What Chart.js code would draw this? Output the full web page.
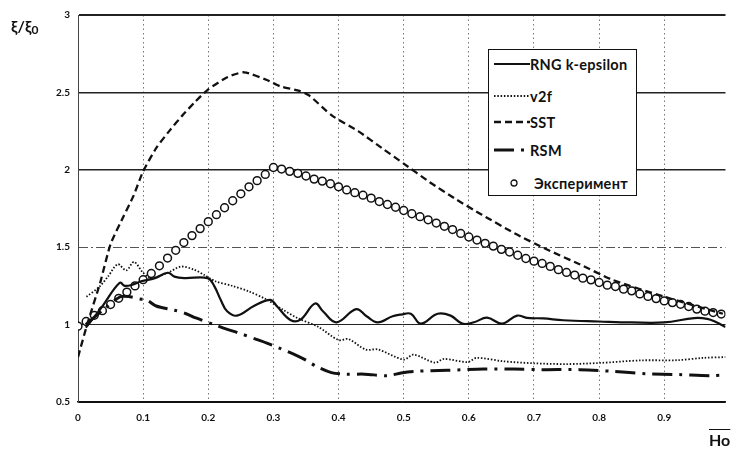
<!DOCTYPE html>
<html>
<head>
<meta charset="utf-8">
<script src="https://cdn.jsdelivr.net/npm/chart.js@4/dist/chart.umd.min.js"></script>
<style>
  html, body { margin: 0; padding: 0; background: #fff; }
  #wrap { position: relative; width: 731px; height: 455px; font-family: Lato, "Open Sans", sans-serif; }
  #chart { position: absolute; left: 0; top: 0; }
  .ytitle { position: absolute; left: 11px; top: 16px; font-weight: 700; font-size: 16px; color: #111; }
  .ytitle sub { font-size: 12px; vertical-align: -2px; }
  .xtitle { position: absolute; left: 709px; top: 430px; font-weight: 700; font-size: 16px; color: #111; text-decoration: overline; }
  #legend { position: absolute; left: 488px; top: 49px; width: 147px; height: 145px; border: 1.5px solid #111; background: #fff; }
  .item { position: absolute; left: 4px; height: 20px; display: flex; align-items: center; font-weight: 700; font-size: 14.5px; letter-spacing: 0.3px; color: #111; white-space: nowrap; }
  .item svg { display: block; }
</style>
</head>
<body>
<div id="wrap">
  <canvas id="chart" width="731" height="455"></canvas>
  <div class="ytitle">ξ/ξ<sub>0</sub></div>
  <div class="xtitle">Ho</div>
  <div id="legend"></div>
</div>
<script>
const xTicks = [0, 0.1, 0.2, 0.3, 0.4, 0.5, 0.6, 0.7, 0.8, 0.9];

const rngX = [0.012, 0.036, 0.064, 0.072, 0.085, 0.097, 0.118, 0.138, 0.148, 0.163, 0.199, 0.209, 0.219, 0.229, 0.244, 0.27, 0.295, 0.305, 0.326, 0.341, 0.364, 0.376, 0.397, 0.427, 0.443, 0.46, 0.483, 0.496, 0.511, 0.526, 0.552, 0.572, 0.59, 0.608, 0.628, 0.651, 0.674, 0.689, 0.714, 0.745, 0.8, 0.85, 0.9, 0.946, 0.966, 0.98, 0.994];
const rngY = [0.98, 1.11, 1.27, 1.25, 1.26, 1.28, 1.30, 1.335, 1.31, 1.30, 1.30, 1.25, 1.16, 1.086, 1.058, 1.12, 1.16, 1.12, 1.03, 1.03, 1.136, 1.086, 1.015, 1.10, 1.054, 1.015, 1.054, 1.065, 1.07, 1.006, 1.07, 1.058, 1.006, 1.015, 1.045, 1.006, 1.058, 1.043, 1.04, 1.028, 1.02, 1.014, 1.014, 1.042, 1.037, 1.015, 0.985];

const v2fX = [0.013, 0.033, 0.046, 0.061, 0.074, 0.086, 0.1, 0.112, 0.138, 0.158, 0.178, 0.194, 0.211, 0.237, 0.262, 0.288, 0.313, 0.338, 0.369, 0.4, 0.415, 0.442, 0.46, 0.5, 0.515, 0.548, 0.562, 0.598, 0.612, 0.653, 0.7, 0.75, 0.8, 0.865, 0.92, 0.96, 0.994];
const v2fY = [1.18, 1.245, 1.31, 1.39, 1.35, 1.405, 1.335, 1.30, 1.335, 1.375, 1.355, 1.32, 1.28, 1.25, 1.215, 1.165, 1.10, 1.04, 0.985, 0.90, 0.907, 0.838, 0.84, 0.774, 0.806, 0.754, 0.778, 0.758, 0.785, 0.763, 0.75, 0.745, 0.752, 0.769, 0.77, 0.785, 0.79];

const sstX = [0, 0.014, 0.034, 0.05, 0.07, 0.085, 0.1, 0.12, 0.14, 0.16, 0.18, 0.2, 0.23, 0.255, 0.29, 0.31, 0.34, 0.355, 0.39, 0.43, 0.47, 0.5, 0.54, 0.58, 0.62, 0.67, 0.72, 0.77, 0.82, 0.9, 0.99];
const sstY = [0.79, 1.0, 1.27, 1.52, 1.70, 1.83, 1.99, 2.14, 2.25, 2.35, 2.44, 2.52, 2.6, 2.63, 2.58, 2.54, 2.51, 2.48, 2.35, 2.25, 2.13, 2.04, 1.92, 1.81, 1.71, 1.59, 1.485, 1.39, 1.29, 1.18, 1.07];

const rsmX = [0.012, 0.04, 0.065, 0.08, 0.095, 0.105, 0.12, 0.148, 0.166, 0.181, 0.209, 0.227, 0.244, 0.275, 0.29, 0.308, 0.336, 0.35, 0.366, 0.389, 0.412, 0.44, 0.476, 0.496, 0.516, 0.567, 0.623, 0.669, 0.714, 0.77, 0.821, 0.872, 0.923, 0.973, 0.994];
const rsmY = [1.0, 1.1, 1.18, 1.18, 1.166, 1.16, 1.12, 1.093, 1.07, 1.043, 1.0, 0.972, 0.95, 0.903, 0.88, 0.85, 0.80, 0.77, 0.73, 0.69, 0.68, 0.68, 0.67, 0.688, 0.698, 0.705, 0.713, 0.713, 0.709, 0.709, 0.698, 0.683, 0.677, 0.67, 0.675];

const expX = [0, 0.0125, 0.025, 0.0375, 0.05, 0.0625, 0.075, 0.0875, 0.1, 0.1125, 0.125, 0.1375, 0.15, 0.1625, 0.175, 0.1875,
  0.2, 0.2125, 0.225, 0.2375, 0.25, 0.2625, 0.275, 0.2875, 0.3, 0.3125, 0.325, 0.3375, 0.35, 0.3625, 0.375, 0.3875,
  0.4, 0.4125, 0.425, 0.4375, 0.45, 0.4625, 0.475, 0.4875, 0.5, 0.5125, 0.525, 0.5375, 0.55, 0.5625, 0.575, 0.5875,
  0.6, 0.6125, 0.625, 0.6375, 0.65, 0.6625, 0.675, 0.6875, 0.7, 0.7125, 0.725, 0.7375, 0.75, 0.7625, 0.775, 0.7875,
  0.8, 0.8125, 0.825, 0.8375, 0.85, 0.8625, 0.875, 0.8875, 0.9, 0.9125, 0.925, 0.9375, 0.95, 0.9625, 0.975, 0.9875];
const expY = [0.99, 1.02, 1.06, 1.09, 1.13, 1.17, 1.21, 1.25, 1.29, 1.33, 1.38, 1.43, 1.48, 1.53, 1.575, 1.62,
  1.665, 1.71, 1.755, 1.80, 1.845, 1.89, 1.93, 1.97, 2.015, 2.005, 1.99, 1.977, 1.96, 1.94, 1.927, 1.91,
  1.89, 1.87, 1.852, 1.836, 1.817, 1.795, 1.776, 1.758, 1.737, 1.716, 1.697, 1.677, 1.656, 1.635, 1.614, 1.589,
  1.566, 1.546, 1.525, 1.507, 1.486, 1.469, 1.448, 1.427, 1.41, 1.395, 1.376, 1.355, 1.337, 1.32, 1.3, 1.289,
  1.272, 1.255, 1.246, 1.229, 1.218, 1.198, 1.182, 1.168, 1.153, 1.142, 1.131, 1.117, 1.1, 1.087, 1.078, 1.068];

const toPoints = (xs, ys) => xs.map((x, i) => ({ x: x, y: ys[i] }));

// legend entries share their styles with the datasets
const series = [
  { label: "RNG k-epsilon", x: rngX, y: rngY, width: 2.2, dash: [], tension: 0.4 },
  { label: "v2f", x: v2fX, y: v2fY, width: 1.8, dash: [1.5, 1.8], tension: 0.3 },
  { label: "SST", x: sstX, y: sstY, width: 2.3, dash: [7, 4], tension: 0.2 },
  { label: "RSM", x: rsmX, y: rsmY, width: 3, dash: [20, 7, 3, 7], tension: 0.3 },
];

const datasets = series.map(s => ({
  label: s.label,
  data: toPoints(s.x, s.y),
  borderColor: "#111",
  borderWidth: s.width,
  borderDash: s.dash,
  tension: s.tension,
  pointRadius: 0,
  fill: false,
}));
datasets.push({
  label: "Эксперимент",
  data: toPoints(expX, expY),
  showLine: false,
  pointRadius: 3.9,
  pointBorderWidth: 1.5,
  pointBorderColor: "#111",
  pointBackgroundColor: "#fff",
});

function hGridColor(ctx) {
  if (!ctx.tick) return "#111";
  const v = ctx.tick.value;
  if (v === 1.5) return "#555";
  if (v === 0.5) return "#111";
  return "#222";
}

function hGridWidth(ctx) {
  if (!ctx.tick) return 1;
  const v = ctx.tick.value;
  if (v === 3) return 2;
  if (v === 2 || v === 2.5) return 1.6;
  return 1;
}

new Chart(document.getElementById("chart"), {
  type: "line",
  data: { datasets: datasets },
  options: {
    responsive: false,
    animation: false,
    devicePixelRatio: 1,
    layout: { padding: { top: 15, right: 1, left: 0, bottom: 0 } },
    plugins: { legend: { display: false }, tooltip: { enabled: false } },
    scales: {
      x: {
        type: "linear",
        min: 0,
        max: 0.994,
        afterBuildTicks: scale => { scale.ticks = xTicks.map(v => ({ value: v })); },
        afterFit: scale => { scale.height = 53; },
        grid: { color: "#777", lineWidth: 1, drawTicks: false },
        border: { display: true, color: "#111", width: 1.5, dash: ctx => ctx.tick ? [1.5, 3] : [] },
        ticks: {
          padding: 10,
          color: "#111",
          font: { family: "Lato", size: 10, weight: "bold" },
          callback: v => String(v),
        },
      },
      y: {
        min: 0.5,
        max: 3,
        afterFit: scale => { scale.width = 78; },
        grid: { color: hGridColor, lineWidth: hGridWidth, drawTicks: false },
        border: {
          display: true,
          color: "#444",
          width: 1,
          dash: ctx => {
            if (!ctx.tick) return [1.5, 2.5];
            return ctx.tick.value === 1.5 ? [9, 3, 2, 3] : [];
          },
        },
        ticks: {
          stepSize: 0.5,
          padding: 8,
          color: "#111",
          font: { family: "Lato", size: 10, weight: "bold" },
          callback: v => String(v),
        },
      },
    },
  },
});

// html legend inside the plot
const legendEl = document.getElementById("legend");
const rowTops = [4, 36, 62, 90, 123];
series.forEach((s, i) => {
  const row = document.createElement("div");
  row.className = "item";
  row.style.top = rowTops[i] + "px";
  row.innerHTML = `<svg width="37" height="10"><line x1="1" y1="5" x2="37" y2="5" stroke="#111"
      stroke-width="${s.width}" stroke-dasharray="${s.dash.join(" ") || "none"}"/></svg><span>${s.label}</span>`;
  legendEl.appendChild(row);
});
const expRow = document.createElement("div");
expRow.className = "item";
expRow.style.top = rowTops[4] + "px";
expRow.innerHTML = `<svg width="37" height="10"><circle cx="21" cy="5" r="3" fill="#fff" stroke="#111" stroke-width="1.3"/></svg>
  <span style="margin-left:4px">Эксперимент</span>`;
legendEl.appendChild(expRow);
</script>
</body>
</html>
